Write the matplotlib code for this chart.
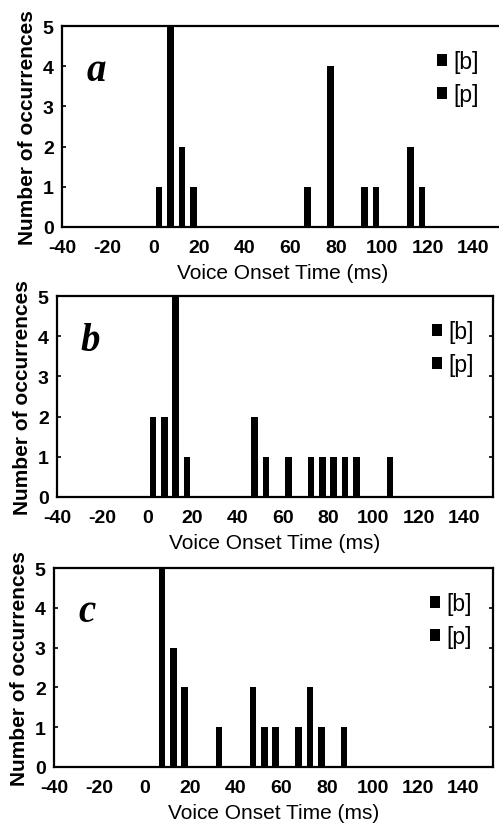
import matplotlib
matplotlib.use("Agg")
import matplotlib.pyplot as plt

plt.rcParams['font.family'] = ['Liberation Sans', 'DejaVu Sans']
plt.rcParams['axes.unicode_minus'] = False

# VOT bin centres (ms) and counts, split into [b] and [p] tokens
a_b_vot = [2.5, 7.5, 12.5, 17.5]
a_b_cnt = [1, 5, 2, 1]
a_p_vot = [67.5, 77.5, 92.5, 97.5, 112.5, 117.5]
a_p_cnt = [1, 4, 1, 1, 2, 1]

b_b_vot = [2.5, 7.5, 12.5, 17.5]
b_b_cnt = [2, 2, 5, 1]
b_p_vot = [47.5, 52.5, 62.5, 72.5, 77.5, 82.5, 87.5, 92.5, 107.5]
b_p_cnt = [2, 1, 1, 1, 1, 1, 1, 1, 1]

c_b_vot = [7.5, 12.5, 17.5]
c_b_cnt = [5, 3, 2]
c_p_vot = [32.5, 47.5, 52.5, 57.5, 67.5, 72.5, 77.5, 87.5]
c_p_cnt = [1, 2, 1, 1, 1, 2, 1, 1]

panel_letters = ['a', 'b', 'c']
x_ticks = list(range(-40, 141, 20))
y_ticks = [0, 1, 2, 3, 4, 5]

W, H = 499, 828
fig = plt.figure(figsize=(W / 100, H / 100), dpi=100)

# axes boxes in pixels: left, right, top, bottom
boxes = [(62, 503, 27, 228), (57, 493, 297, 498), (54, 493, 569, 768)]
data = [(a_b_vot, a_b_cnt, a_p_vot, a_p_cnt),
        (b_b_vot, b_b_cnt, b_p_vot, b_p_cnt),
        (c_b_vot, c_b_cnt, c_p_vot, c_p_cnt)]
leg_x = [437, 432, 430]

for i in range(3):
    l, r, t, b = boxes[i]
    ax = fig.add_axes([l / W, 1 - b / H, (r - l) / W, (b - t) / H])
    bv, bc, pv, pc = data[i]
    hb = ax.bar(bv, bc, width=2.9, color='black', label='[b]')
    hp = ax.bar(pv, pc, width=2.9, color='black', label='[p]')
    ax.set_xlim(-40, 153)
    ax.set_ylim(0, 5)
    ax.set_xticks(x_ticks)
    ax.set_yticks(y_ticks)
    ax.tick_params(axis='x', length=0, pad=8.5, labelsize=14)
    ax.tick_params(axis='y', direction='in', length=3, width=1.2, pad=6,
                   labelsize=14, right=True)
    for lab in ax.get_xticklabels() + ax.get_yticklabels():
        lab.set_fontweight('bold')
    for s in ax.spines.values():
        s.set_linewidth(1.6)
    ax.set_xlabel('Voice Onset Time (ms)', fontsize=15, labelpad=5)
    ax.set_ylabel('Number of occurrences', fontsize=15, fontweight='bold',
                  labelpad=4)
    ax.text(0.055, 0.78, panel_letters[i], transform=ax.transAxes,
            fontsize=28, fontweight='bold', fontstyle='italic',
            family='Liberation Serif', va='center', ha='left')
    ax.legend(handles=[hb, hp], loc='upper left', frameon=False,
              bbox_to_anchor=((leg_x[i] - l) / (r - l), 0.88),
              fontsize=16.5, handlelength=0.42, handleheight=0.42,
              handletextpad=0.3, labelspacing=0.45, borderpad=0,
              borderaxespad=0)

fig.savefig('out.png', dpi=100)
